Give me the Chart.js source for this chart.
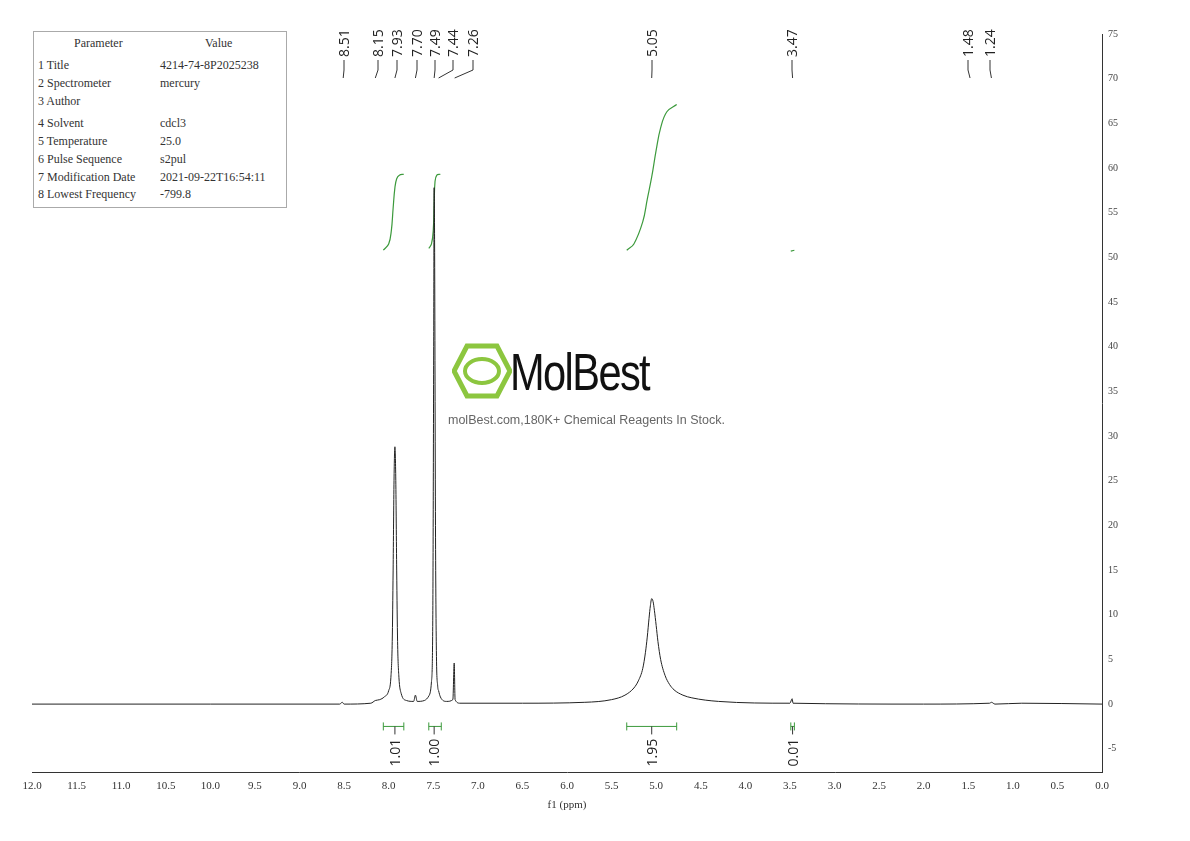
<!DOCTYPE html>
<html><head><meta charset="utf-8">
<script src="https://cdn.jsdelivr.net/npm/chart.js@4"></script>
<style>
body{margin:0;background:#fff;}
#wrap{position:relative;width:1190px;height:841px;}
#tbl{position:absolute;left:33px;top:31px;width:252px;height:175px;border:1px solid #aaa;font:12px "Liberation Serif",serif;color:#333;background:#fff;}
#tbl div{position:absolute;white-space:nowrap;}
#wm{position:absolute;left:448px;top:340px;font-family:"Liberation Sans",sans-serif;}
</style></head><body>
<div id="wrap">
<canvas id="c" width="1190" height="841"></canvas>
<div id="tbl"></div>
<div id="wm">
<svg width="60" height="60" style="position:absolute;left:4px;top:2px"><polygon points="15,4 45,4 58,29 45,54 15,54 2,29" fill="none" stroke="#8cc63f" stroke-width="5"/><ellipse cx="30" cy="29" rx="17" ry="12" fill="none" stroke="#8cc63f" stroke-width="4"/></svg>
<div style="position:absolute;left:62px;top:2px;font-size:52px;letter-spacing:-2px;transform:scaleX(0.8);transform-origin:left;color:#111;">MolBest</div>
<div style="position:absolute;left:0;top:73px;font-size:12.5px;color:#666;white-space:nowrap;">molBest.com,180K+ Chemical Reagents In Stock.</div>
</div>
</div>
<script>
var paramNames = ["Parameter","1 Title","2 Spectrometer","3 Author","4 Solvent","5 Temperature","6 Pulse Sequence","7 Modification Date","8 Lowest Frequency"];
var paramValues = ["Value","4214-74-8P2025238","mercury","","cdcl3","25.0","s2pul","2021-09-22T16:54:11","-799.8"];
var rowTops = [4,26,44,62,84,102,120,138,155];

var spectrum = [[12,0],[10,0],[8.55,0],[8.52,0.2],[8.50,0],[8.2,0.1],[8.15,0.4],[8.1,0.5],[8.05,0.8],[8.0,1.5],[7.975,3],[7.96,7],[7.95,15],[7.94,25],[7.93,28.8],[7.92,25],[7.91,15],[7.9,7],[7.885,3],[7.86,1.2],[7.8,0.4],[7.72,0.3],[7.70,1.0],[7.68,0.3],[7.6,0.4],[7.55,0.9],[7.52,2.5],[7.505,10],[7.495,40],[7.49,57.8],[7.485,52],[7.475,20],[7.465,6],[7.45,2],[7.44,1.5],[7.42,0.8],[7.35,0.3],[7.28,0.5],[7.265,4.6],[7.255,0.5],[7.2,0.1],[6.5,0.1],[5.8,0.2],[5.5,0.5],[5.35,1.0],[5.25,1.8],[5.2,2.6],[5.15,4],[5.12,5.8],[5.1,7.5],[5.08,9.6],[5.065,11],[5.05,11.8],[5.035,11.5],[5.02,10.5],[5.0,8.8],[4.98,7],[4.95,5],[4.9,3.2],[4.85,2.2],[4.8,1.6],[4.7,1.0],[4.6,0.7],[4.3,0.3],[3.5,0.1],[3.475,0.6],[3.465,0.1],[2,0],[1.26,0.1],[1.24,0.2],[1.2,0],[0.9,0.1],[0,0]];
var integral1 = [[8.06,50.8],[8.0,51.5],[7.97,53],[7.95,55.5],[7.93,57.8],[7.91,58.8],[7.88,59.2],[7.83,59.3]];
var integral2 = [[7.55,51],[7.52,51.5],[7.50,53],[7.49,56],[7.48,58.5],[7.46,59.2],[7.42,59.3]];
var integral3 = [[5.33,50.8],[5.25,51.5],[5.15,54],[5.1,56.5],[5.05,59],[5.0,62],[4.95,64.5],[4.88,66.3],[4.77,67.1]];
var integral4 = [[3.49,50.7],[3.45,50.8]];
var integralRanges = [[8.06,7.83,7.93,"1.01"],[7.55,7.41,7.49,"1.00"],[5.33,4.77,5.05,"1.95"],[3.49,3.45,3.47,"0.01"]];
var peakPpm = [8.51,8.15,7.93,7.70,7.49,7.44,7.26,5.05,3.47,1.48,1.24];
var peakLabelX = [344,378,397,417,435,453,473,652,792,968,990];

var tbl = document.getElementById("tbl");
paramNames.forEach(function(n,i){
  var a=document.createElement("div");a.textContent=n;a.style.top=rowTops[i]+"px";a.style.left=i==0?"40px":"4px";tbl.appendChild(a);
  var b=document.createElement("div");b.textContent=paramValues[i];b.style.top=rowTops[i]+"px";b.style.left=i==0?"171px":"126px";tbl.appendChild(b);
});

function pts(a){return a.map(function(p){return {x:p[0],y:p[1]};});}
var green = "#3c9a3c";

var annot = {
  id:"annot",
  afterDraw:function(chart){
    var ctx=chart.ctx, xs=chart.scales.x, ys=chart.scales.y;
    ctx.save();
    ctx.font="14px 'Open Sans', sans-serif";ctx.fillStyle="#222";ctx.strokeStyle="#333";ctx.lineWidth=1;
    peakPpm.forEach(function(p,i){
      var lx=peakLabelX[i], px=xs.getPixelForValue(p);
      ctx.save();ctx.translate(lx+5,57);ctx.rotate(-Math.PI/2);ctx.textAlign="left";ctx.fillText(p.toFixed(2),0,0);ctx.restore();
      ctx.beginPath();ctx.moveTo(lx,60);ctx.lineTo(lx,70);ctx.lineTo(px,78);ctx.stroke();
    });
    integralRanges.forEach(function(r){
      var a=xs.getPixelForValue(r[0]),b=xs.getPixelForValue(r[1]),m=xs.getPixelForValue(r[2]),y=ys.getPixelForValue(-2.5);
      ctx.strokeStyle=green;ctx.beginPath();ctx.moveTo(a,y);ctx.lineTo(b,y);ctx.moveTo(a,y-4);ctx.lineTo(a,y+4);ctx.moveTo(b,y-4);ctx.lineTo(b,y+4);ctx.stroke();
      ctx.strokeStyle="#333";ctx.beginPath();ctx.moveTo(m,y);ctx.lineTo(m,y+8);ctx.stroke();
      ctx.save();ctx.translate(m+5,y+40);ctx.rotate(-Math.PI/2);ctx.textAlign="left";ctx.fillText(r[3],0,0);ctx.restore();
    });
    ctx.restore();
  }
};

new Chart(document.getElementById("c"),{
  type:"line",
  data:{datasets:[
    {data:pts(spectrum),borderColor:"#222",borderWidth:1,pointRadius:0,cubicInterpolationMode:"monotone"},
    {data:pts(integral1),borderColor:green,borderWidth:1.2,pointRadius:0,tension:0.4},
    {data:pts(integral2),borderColor:green,borderWidth:1.2,pointRadius:0,tension:0.4},
    {data:pts(integral3),borderColor:green,borderWidth:1.2,pointRadius:0,tension:0.4},
    {data:pts(integral4),borderColor:green,borderWidth:1.2,pointRadius:0,tension:0}
  ]},
  options:{
    responsive:false,animation:false,
    layout:{padding:{left:32,right:58,top:34,bottom:29}},
    plugins:{legend:{display:false},tooltip:{enabled:false}},
    scales:{
      x:{type:"linear",reverse:true,min:0,max:12,
        grid:{display:false,drawTicks:true,tickLength:5,tickColor:"#333"},border:{color:"#333"},
        ticks:{stepSize:0.25,color:"#333",font:{family:"Liberation Serif",size:11},callback:function(v){return Math.abs(v*2-Math.round(v*2))<1e-6?v.toFixed(1):"";},maxRotation:0,autoSkip:false},
        title:{display:true,text:"f1 (ppm)",color:"#333",font:{family:"Liberation Serif",size:11},padding:0},
        afterFit:function(s){s.height=40;}},
      y:{position:"right",min:-7.6,max:75,
        grid:{display:false,tickLength:5,tickColor:"#333"},border:{color:"#333"},
        ticks:{color:"#444",font:{family:"Liberation Serif",size:10},callback:function(v){return v%5==0?String(v):"";},padding:1},
        afterBuildTicks:function(s){var t=[];for(var v=-7.5;v<=75;v+=2.5)t.push({value:v});s.ticks=t;},
        afterFit:function(s){s.width=30;}}
    }
  },
  plugins:[annot]
});
</script>
</body></html>
